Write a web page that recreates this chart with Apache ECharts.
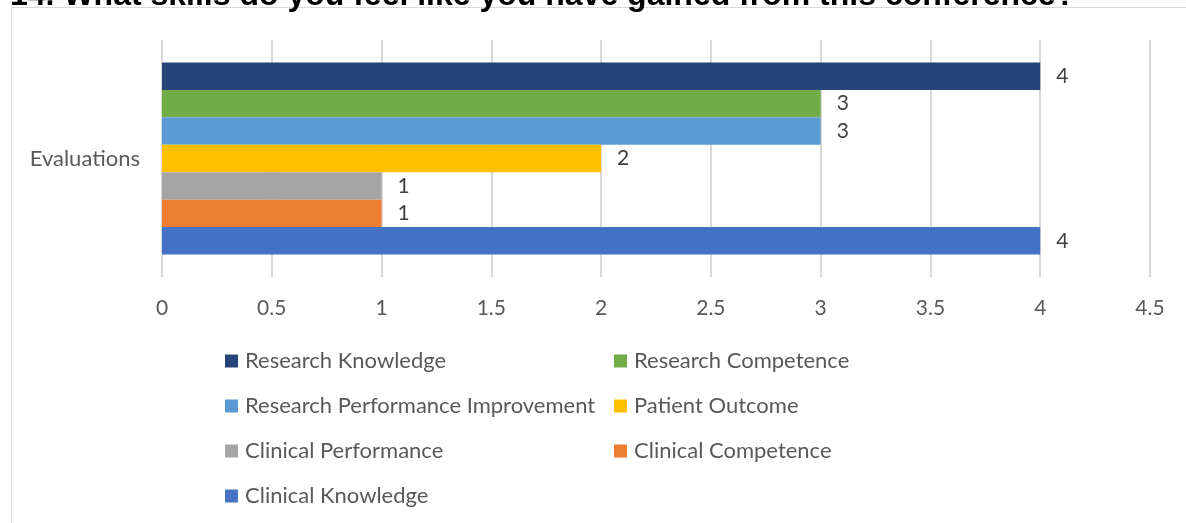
<!DOCTYPE html>
<html>
<head>
<meta charset="utf-8">
<script src="https://cdn.jsdelivr.net/npm/echarts@6/dist/echarts.min.js"></script>
<style>
  html, body { margin: 0; padding: 0; background: #fff; }
  #main { width: 1186px; height: 523px; }
</style>
</head>
<body>
<div id="main"></div>
<script>
// categories / series
const categories = ['Evaluations']
// series listed top bar first (ECharts draws the first series at the top)
const seriesNames = [
  'Research Knowledge',
  'Research Competence',
  'Research Performance Improvement',
  'Patient Outcome',
  'Clinical Performance',
  'Clinical Competence',
  'Clinical Knowledge',
]
const seriesValues = [4, 3, 3, 2, 1, 1, 4]
const seriesColors = ['#264478', '#70ad47', '#5b9bd5', '#ffc000', '#a5a5a5', '#ed7d31', '#4472c4']
// legend columns
const legendLeft = ['Research Knowledge', 'Research Performance Improvement', 'Clinical Performance', 'Clinical Knowledge']
const legendRight = ['Research Competence', 'Patient Outcome', 'Clinical Competence']

const chart = echarts.init(document.getElementById('main'))

const font = 'Lato, "Open Sans", sans-serif'
const legendBase = {
  orient: 'vertical',
  itemGap: 23,
  itemWidth: 13,
  itemHeight: 13,
  icon: 'rect',
  textStyle: { color: '#595959', fontSize: 22, lineHeight: 22, fontFamily: font, padding: [0, 0, 0, 2] },
}

const option = {
  animation: false,
  title: {
    text: '14. What skills do you feel like you have gained from this conference?',
    left: 5,
    top: -25,
    textStyle: { fontSize: 32, fontWeight: 'bold', color: '#000', fontFamily: 'Liberation Sans, Arial, sans-serif' },
  },
  graphic: [
    {
      type: 'rect',
      shape: { x: 11.5, y: 7.5, width: 1300, height: 700 },
      style: { fill: null, stroke: '#d9d9d9', lineWidth: 1 },
      silent: true,
    },
  ],
  legend: [
    Object.assign({}, legendBase, { left: 220, top: 345, data: legendLeft }),
    Object.assign({}, legendBase, { left: 609, top: 345, data: legendRight }),
  ],
  grid: { left: 162, right: 36, top: 40, bottom: 246, containLabel: false },
  xAxis: {
    type: 'value',
    min: 0,
    max: 4.5,
    interval: 0.5,
    axisLine: { show: false },
    axisTick: { show: false },
    axisLabel: { color: '#595959', fontSize: 21, fontFamily: font, margin: 21 },
    splitLine: { lineStyle: { color: '#d9d9d9', width: 2 } },
  },
  yAxis: {
    type: 'category',
    data: categories,
    axisLine: { show: false },
    axisTick: { show: false },
    axisLabel: { color: '#595959', fontSize: 22, fontFamily: font, margin: 22 },
  },
  series: seriesNames.map((name, i) => ({
    name: name,
    type: 'bar',
    data: [seriesValues[i]],
    barGap: 0,
    barCategoryGap: '19%',
    itemStyle: { color: seriesColors[i] },
    label: {
      show: true,
      position: 'right',
      distance: 16,
      color: '#404040',
      fontSize: 21,
      fontFamily: font,
    },
  })),
}

chart.setOption(option)
</script>
</body>
</html>
